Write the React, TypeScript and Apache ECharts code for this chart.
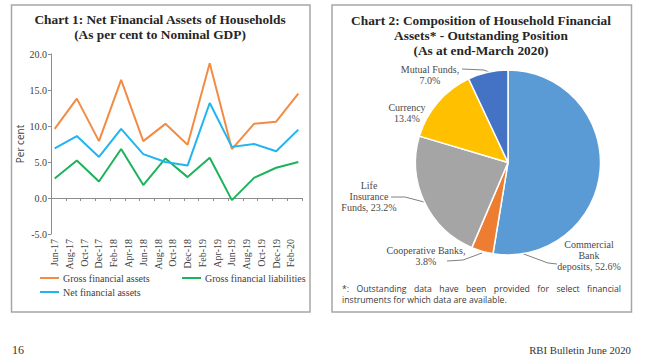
import React, { useEffect, useRef } from 'react';
import * as echarts from 'echarts';

// ---------- Chart 1 data ----------
const months = [
  'Jun-17', 'Jul-17', 'Aug-17', 'Sep-17', 'Oct-17', 'Nov-17', 'Dec-17',
  'Jan-18', 'Feb-18', 'Mar-18', 'Apr-18', 'May-18', 'Jun-18', 'Jul-18', 'Aug-18', 'Sep-18', 'Oct-18', 'Nov-18', 'Dec-18',
  'Jan-19', 'Feb-19', 'Mar-19', 'Apr-19', 'May-19', 'Jun-19', 'Jul-19', 'Aug-19', 'Sep-19', 'Oct-19', 'Nov-19', 'Dec-19',
  'Jan-20', 'Feb-20', 'Mar-20',
];
const quarters = ['Jun-17', 'Sep-17', 'Dec-17', 'Mar-18', 'Jun-18', 'Sep-18', 'Dec-18', 'Mar-19', 'Jun-19', 'Sep-19', 'Dec-19', 'Mar-20'];
const grossAssets = [9.6, 13.8, 7.9, 16.4, 7.9, 10.3, 7.4, 18.7, 6.8, 10.3, 10.6, 14.5];
const grossLiabilities = [2.7, 5.2, 2.3, 6.8, 1.8, 5.5, 2.9, 5.6, -0.3, 2.8, 4.2, 5.0];
const netAssets = [6.9, 8.6, 5.7, 9.6, 6.1, 5.0, 4.5, 13.2, 7.1, 7.5, 6.5, 9.5];
const seriesNames = ['Gross financial assets', 'Gross financial liabilities', 'Net financial assets'];
const lineColors = ['#F28C45', '#1DB25C', '#22B4EE'];

// ---------- Chart 2 data ----------
const pieNames = ['Commercial Bank deposits', 'Cooperative Banks', 'Life Insurance Funds', 'Currency', 'Mutual Funds'];
const pieValues = [52.6, 3.8, 23.2, 13.4, 7.0];
const pieLabelPrefix = ['Commercial\nBank\ndeposits, ', 'Cooperative Banks,\n', 'Life\nInsurance\nFunds, ', 'Currency\n', 'Mutual Funds,\n'];
const pieColors = ['#5B9BD5', '#ED7D31', '#A5A5A5', '#FFC000', '#4472C4'];

// ---------- Texts ----------
const title1 = ['Chart 1: Net Financial Assets of Households', '(As per cent to Nominal GDP)'];
const title2 = ['Chart 2: Composition of Household Financial', 'Assets* - Outstanding Position', '(As at end-March 2020)'];
const footLine1 = '*: Outstanding data have been provided for select financial';
const footLine2 = 'instruments for which data are available.';
const pageNo = '16';
const bulletin = 'RBI Bulletin June 2020';

const SERIF = '"Liberation Serif", "DejaVu Serif", serif';
const SANS = '"Open Sans", "Noto Sans", sans-serif';

const ctx = typeof document !== 'undefined' ? document.createElement('canvas').getContext('2d') : null;
function measure(text: string, size: number, family: string, weight = 'normal') {
  if (!ctx) return text.length * size * 0.5;
  ctx.font = `${weight} ${size}px ${family}`;
  return ctx.measureText(text).width;
}
function fit(text: string, family: string, weight: string, target: number, lo = 7, hi = 16) {
  const w = measure(text, 10, family, weight);
  const s = (10 * target) / w;
  return Math.max(lo, Math.min(hi, s));
}

// label placement for pie (layout only)
const pieLabelLayout: any[] = [
  { x: 589, y: 255, line: [[521, 253], [548, 263], [557, 264]] },
  { x: 426, y: 256, line: [[482, 253], [463, 260], [447, 261]] },
  { x: 369, y: 196, line: [[424, 202], [405, 197], [391, 197]] },
  { x: 407, y: 112.5, line: null },
  { x: 430, y: 75, line: [[489, 72], [484, 70], [462, 69]] },
];

export default function App() {
  const ref = useRef<HTMLDivElement>(null);
  useEffect(() => {
    if (!ref.current) return;
    const chart = echarts.init(ref.current, undefined, { renderer: 'svg' });

    const t1Size = fit(title1[0], SERIF, 'bold', 252);
    const t2Size = fit(title2[0], SERIF, 'bold', 260);
    const footSize = fit(footLine2, SANS, 'normal', 165);
    const bulletinSize = fit(bulletin, SERIF, 'normal', 102);

    // justified first footnote line
    const words = footLine1.split(' ');
    const widths = words.map((w) => measure(w, footSize, SANS));
    const totalW = widths.reduce((a, b) => a + b, 0);
    const x0 = 342;
    const x1 = 621;
    const gap = (x1 - x0 - totalW) / (words.length - 1);
    let cx = x0;
    const footWords: any[] = words.map((w, i) => {
      const el = {
        type: 'text',
        x: cx,
        y: 289,
        style: { text: w, fontSize: footSize, fontFamily: SANS, fill: '#3a3a3a', textVerticalAlign: 'middle' },
      };
      cx += widths[i] + gap;
      return el;
    });

    const lineSeries = [grossAssets, grossLiabilities, netAssets].map((vals, i) => ({
      type: 'line',
      name: seriesNames[i],
      xAxisIndex: 0,
      yAxisIndex: 0,
      data: quarters.map((q, j) => [q, vals[j]]),
      symbol: 'none',
      lineStyle: { width: 2, color: lineColors[i] },
      itemStyle: { color: lineColors[i] },
      z: 3,
    }));

    const legendBase = {
      icon: 'rect',
      itemWidth: 19,
      itemHeight: 2,
      padding: 0,
      itemGap: 10,
      selectedMode: false,
      textStyle: { fontSize: 10, fontFamily: SERIF, color: '#404040', padding: [0, 0, 0, -1] },
    };

    const option: any = {
      animation: false,
      backgroundColor: '#ffffff',
      grid: { left: 51, top: 54, width: 251, height: 180, containLabel: false },
      xAxis: [
        {
          type: 'category',
          data: months,
          boundaryGap: true,
          position: 'bottom',
          axisLine: { show: false, onZero: false },
          axisTick: { show: false },
          axisLabel: {
            interval: 1,
            rotate: 90,
            margin: 5,
            fontSize: 10,
            fontFamily: SERIF,
            color: '#404040',
          },
          splitLine: { show: false },
        },
        {
          type: 'category',
          data: months,
          boundaryGap: true,
          position: 'bottom',
          axisLine: { show: true, onZero: true, lineStyle: { color: '#8c8c8c', width: 1 } },
          axisTick: { show: true, interval: 1, length: 3, lineStyle: { color: '#8c8c8c' } },
          axisLabel: { show: false },
          splitLine: { show: false },
        },
      ],
      yAxis: {
        type: 'value',
        min: -5,
        max: 20,
        interval: 5,
        name: 'Per cent',
        nameLocation: 'middle',
        nameRotate: 90,
        nameGap: 26,
        nameTextStyle: { fontSize: 10, fontFamily: SANS, color: '#404040' },
        axisLine: { show: true, lineStyle: { color: '#8c8c8c', width: 1 } },
        axisTick: { show: true, length: 3, lineStyle: { color: '#8c8c8c' } },
        axisLabel: {
          margin: 4,
          fontSize: 10,
          fontFamily: SERIF,
          color: '#404040',
          formatter: (v: number) => v.toFixed(1),
        },
        splitLine: { show: false },
      },
      legend: [
        { ...legendBase, data: [seriesNames[0]], left: 40, top: 273 },
        { ...legendBase, data: [seriesNames[1]], left: 182, top: 273 },
        { ...legendBase, data: [seriesNames[2]], left: 40, top: 287 },
      ],
      series: [
        ...lineSeries,
        {
          type: 'pie',
          center: [508, 162.5],
          radius: 92.5,
          startAngle: 90,
          clockwise: true,
          avoidLabelOverlap: false,
          itemStyle: { borderColor: '#ffffff', borderWidth: 1.5 },
          label: {
            show: true,
            position: 'outside',
            fontSize: 10,
            fontFamily: SERIF,
            color: '#4a4a4a',
            lineHeight: 11,
            align: 'center',
          },
          labelLine: { show: true, length: 8, length2: 8, lineStyle: { color: '#808080', width: 1 } },
          labelLayout: (p: any) => {
            const cfg = pieLabelLayout[p.dataIndex];
            const res: any = { x: cfg.x, y: cfg.y, align: 'center', verticalAlign: 'middle' };
            if (cfg.line) res.labelLinePoints = cfg.line;
            return res;
          },
          data: pieNames.map((n, i) => ({
            name: n,
            value: pieValues[i],
            itemStyle: { color: pieColors[i] },
            label: { formatter: pieLabelPrefix[i] + pieValues[i].toFixed(1) + '%' },
            labelLine: { show: pieLabelLayout[i].line != null },
          })),
        },
      ],
      graphic: [
        {
          type: 'rect',
          shape: { x: 11.5, y: 5, width: 298.5, height: 307 },
          style: { fill: 'none', stroke: '#a6a6a6', lineWidth: 1.5 },
          z: -1,
        },
        {
          type: 'rect',
          shape: { x: 332, y: 5, width: 299.5, height: 307 },
          style: { fill: 'none', stroke: '#a6a6a6', lineWidth: 1.5 },
          z: -1,
        },
        {
          type: 'text',
          x: 160,
          y: 20,
          style: {
            text: title1.join('\n'),
            textAlign: 'center',
            textVerticalAlign: 'top',
            fontSize: t1Size,
            fontWeight: 'bold',
            fontFamily: SERIF,
            lineHeight: 14.5,
            fill: '#262626',
          },
          y: 12.5,
        },
        {
          type: 'text',
          x: 481,
          y: 12.5,
          style: {
            text: title2.join('\n'),
            textAlign: 'center',
            textVerticalAlign: 'top',
            fontSize: t2Size,
            fontWeight: 'bold',
            fontFamily: SERIF,
            lineHeight: 15,
            fill: '#262626',
          },
        },
        ...footWords,
        {
          type: 'text',
          x: 342,
          y: 300,
          style: { text: footLine2, fontSize: footSize, fontFamily: SANS, fill: '#3a3a3a', textVerticalAlign: 'middle' },
        },
        {
          type: 'text',
          x: 12,
          y: 350,
          style: { text: pageNo, fontSize: 12, fontFamily: SERIF, fill: '#333333', textVerticalAlign: 'middle' },
        },
        {
          type: 'text',
          x: 631,
          y: 350,
          style: {
            text: bulletin,
            fontSize: bulletinSize,
            fontFamily: SERIF,
            fill: '#333333',
            textAlign: 'right',
            textVerticalAlign: 'middle',
          },
        },
      ],
    };

    chart.setOption(option);
    return () => chart.dispose();
  }, []);

  return (
    <div
      ref={ref}
      style={{ position: 'absolute', left: 0, top: 0, width: 660, height: 362, background: '#fff' }}
    />
  );
}
